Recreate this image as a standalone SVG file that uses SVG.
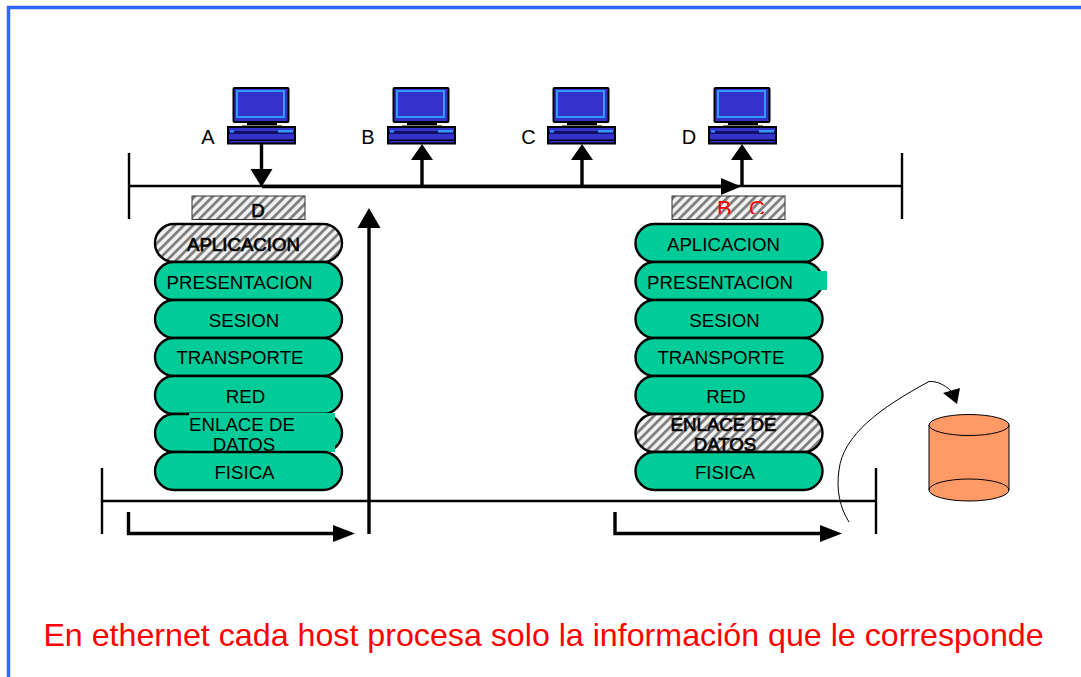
<svg xmlns="http://www.w3.org/2000/svg" xmlns:xlink="http://www.w3.org/1999/xlink" width="1081" height="677" viewBox="0 0 1081 677">
<style>
text{font-family:"Liberation Sans",Arial,sans-serif;font-size:18.67px;fill:#000;text-anchor:middle}
.pill{stroke:#000;stroke-width:2.4;fill:#00cc99}
.hatch{fill:url(#h)}
.tb{fill:#00cc99}
.lbl{stroke:#000;stroke-width:.7}
.pcl{font-size:20px}
.line{stroke:#000;stroke-width:2.400;fill:none}
.thick{stroke:#000;stroke-width:3.400;fill:none}
</style>
<defs>
<pattern id="h" width="6.400" height="6.400" patternUnits="userSpaceOnUse" patternTransform="rotate(45)">
<rect width="6.400" height="6.400" fill="#f2f2f2"/><rect width="2.800" height="6.400" fill="#808080"/>
</pattern>
<clipPath id="bc"><rect x="672" y="196" width="114" height="18"/></clipPath>
<symbol id="pc" width="70" height="58" viewBox="0 0 70 58">
<rect x="6.500" y="1" width="55" height="34" rx="1" fill="#3333cc" stroke="#000" stroke-width="2"/>
<rect x="10" y="4" width="47" height="26" fill="none" stroke="#3399ff" stroke-width="2"/>
<rect x="14" y="7" width="40" height="21" fill="#3333cc"/>
<path d="M20 37H50M15 39.500H55" stroke="#000" stroke-width="2" fill="none"/>
<rect x="1" y="40" width="67" height="16.500" fill="#3333cc" stroke="#000" stroke-width="2"/>
<rect x="2" y="44" width="65" height="3" fill="#111166"/>
<rect x="51" y="43" width="15" height="2.500" fill="#3399ff"/>
<rect x="3" y="43.500" width="4" height="2" fill="#3399ff"/>
<rect x="2" y="52.500" width="65" height="1.500" fill="#000"/>
</symbol>
</defs>
<g id="frame">
<rect width="1081" height="677" fill="#fff"/>
<path d="M8.500 677V7.500H1081" fill="none" stroke="#3366ff" stroke-width="3.500"/>
</g>
<g id="connectors">
<path class="line" d="M129 186H902M129 153V219M902 153V219"/>
<path class="thick" d="M262 186.500H722"/>
<path class="thick" d="M261.500 144V170"/>
<path d="M250.500 169H272.500L261.500 187Z"/>
<path d="M721 178V195L741 186.500Z"/>
<path class="thick" d="M422 186V160"/><path d="M411 160H433L422 144Z"/>
<path class="thick" d="M582 186V160"/><path d="M571 160H593L582 144Z"/>
<path class="thick" d="M742 186V160"/><path d="M731 160H753L742 144Z"/>
<path class="thick" d="M369 534V226"/><path d="M357.500 228H380.500L369 208Z"/>
<path class="line" d="M102 501H876M102 468V534M876 468V534"/>
<path class="thick" d="M128.500 512V533.500H335"/><path d="M333 525V542L355 533.500Z"/>
<path class="thick" d="M615 512V533.500H822"/><path d="M820 525V542L842 533.500Z"/>
<path d="M849 522C840 508 836 490 839 470C843 435 880 408 929 381.500C936 381 944 384 951 391" fill="none" stroke="#000" stroke-width="1"/>
<path d="M943 393L960 388L957 404Z"/>
</g>
<g id="pc-a"><use xlink:href="#pc" href="#pc" x="227" y="87" width="70" height="58"/><text class="pcl" x="208" y="144">A</text></g>
<g id="pc-b"><use xlink:href="#pc" href="#pc" x="387" y="87" width="70" height="58"/><text class="pcl" x="368" y="144">B</text></g>
<g id="pc-c"><use xlink:href="#pc" href="#pc" x="547" y="87" width="70" height="58"/><text class="pcl" x="528.500" y="144">C</text></g>
<g id="pc-d"><use xlink:href="#pc" href="#pc" x="708" y="87" width="70" height="58"/><text class="pcl" x="689" y="144">D</text></g>
<g id="header-left"><rect class="hatch" x="192" y="196" width="113" height="23.500" stroke="#333" stroke-width="1"/><text class="lbl" x="258" y="217">D</text></g>
<g id="header-right"><rect class="hatch" x="672" y="196" width="113" height="23.500" stroke="#333" stroke-width="1"/><text x="741" y="216" clip-path="url(#bc)" style="font-size:22px;fill:#ff0000;word-spacing:11.300px">B C</text></g>
<g id="stack-left">
<g id="l-aplicacion"><rect class="pill hatch" x="155" y="224" width="187" height="38" rx="19" style="stroke:#000"/><text class="lbl" x="243.500" y="251">APLICACION</text></g>
<g id="l-presentacion"><rect class="pill" x="155" y="262" width="187" height="38" rx="19"/><text x="239.500" y="289">PRESENTACION</text></g>
<g id="l-sesion"><rect class="pill" x="155" y="300" width="187" height="38" rx="19"/><text x="244" y="327">SESION</text></g>
<g id="l-transporte"><rect class="pill" x="155" y="338" width="187" height="38" rx="19"/><text x="240" y="364">TRANSPORTE</text></g>
<g id="l-red"><rect class="pill" x="155" y="376" width="187" height="38" rx="19"/><text x="245.500" y="403">RED</text></g>
<g id="l-enlace"><rect class="pill" x="155" y="414" width="187" height="38" rx="19"/><rect class="tb" x="189" y="413" width="146" height="39"/><text x="242" y="431">ENLACE DE</text><text x="244" y="451">DATOS</text></g>
<g id="l-fisica"><rect class="pill" x="155" y="452" width="187" height="38" rx="19"/><text x="244.500" y="479">FISICA</text></g>
</g>
<g id="stack-right">
<g id="r-aplicacion"><rect class="pill" x="635.500" y="224" width="187" height="38" rx="19"/><text x="723.500" y="251">APLICACION</text></g>
<g id="r-presentacion"><rect class="pill" x="635.500" y="262" width="187" height="38" rx="19"/><rect class="tb" x="647" y="271" width="180" height="19"/><text x="720" y="289">PRESENTACION</text></g>
<g id="r-sesion"><rect class="pill" x="635.500" y="300" width="187" height="38" rx="19"/><text x="724.500" y="327">SESION</text></g>
<g id="r-transporte"><rect class="pill" x="635.500" y="338" width="187" height="38" rx="19"/><text x="721" y="364">TRANSPORTE</text></g>
<g id="r-red"><rect class="pill" x="635.500" y="376" width="187" height="38" rx="19"/><text x="726" y="403">RED</text></g>
<g id="r-enlace"><rect class="pill hatch" x="635.500" y="414" width="187" height="38" rx="19" style="stroke:#000"/><text class="lbl" x="723.500" y="431">ENLACE DE</text><text class="lbl" x="725" y="451">DATOS</text></g>
<g id="r-fisica"><rect class="pill" x="635.500" y="452" width="187" height="38" rx="19"/><text x="725" y="479">FISICA</text></g>
</g>
<g id="cylinder">
<path d="M929 425V490A40 11 0 0 0 1009 490V425Z" fill="#ff9966" stroke="#000" stroke-width="1"/>
<ellipse cx="969" cy="425" rx="40" ry="10.500" fill="#ff9966" stroke="#000" stroke-width="1"/>
<path d="M929 490A40 11 0 0 1 1009 490" fill="none" stroke="#000" stroke-width="1"/>
</g>
<text id="caption" x="543.500" y="646" style="font-size:32.200px;fill:#ff0000">En ethernet cada host procesa solo la información que le corresponde</text>
</svg>
